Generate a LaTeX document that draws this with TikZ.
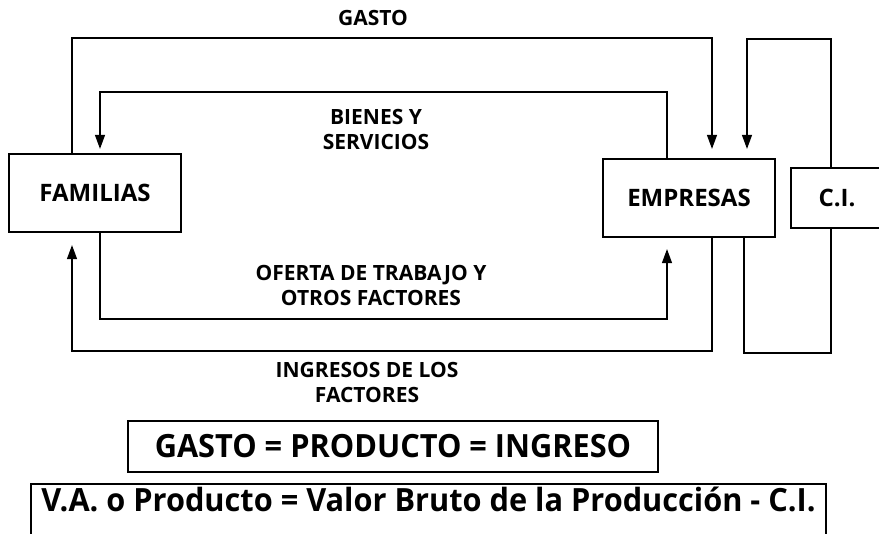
\documentclass[tikz,border=0pt]{standalone}
\usepackage{fontspec}
\setmainfont{Open Sans}
\newfontfamily\condfont{Open Sans}[FakeStretch=0.96]
\usetikzlibrary{arrows.meta,calc}
\tikzstyle{box}=[rectangle,draw=black,line width=2.2pt,inner sep=0pt,
  font=\bfseries\fontsize{24}{28}\selectfont,minimum width=172pt,minimum height=78pt]
\tikzstyle{lbl}=[align=center,inner sep=0pt,font=\bfseries\fontsize{21}{25}\selectfont]
\tikzstyle{flow}=[line width=1.2pt]
\tikzstyle{tip}=[-{Triangle[length=14pt,width=10pt]}]
\tikzstyle{eq}=[rectangle,draw=black,line width=2pt,
  font=\condfont\bfseries\fontsize{32}{36}\selectfont]

\begin{document}
\begin{tikzpicture}[x=1pt,y=-1pt]
            \useasboundingbox (0,0) rectangle (879,534);
            \node [style=box] (0) at (95, 193) {FAMILIAS};
            \node [style=box] (1) at (689, 198) {EMPRESAS};
            \node [style=box,minimum width=92pt,minimum height=60pt] (2) at (837, 198) {C.I.};
            \coordinate (a) at (72, 38);
            \coordinate (b) at (712, 38);
            \coordinate (c) at (667, 92);
            \coordinate (d) at (100, 92);
            \coordinate (e) at (831, 39);
            \coordinate (f) at (747, 39);
            \coordinate (g) at (831, 353);
            \coordinate (h) at (744, 353);
            \coordinate (i) at (712, 351);
            \coordinate (j) at (72, 351);
            \coordinate (k) at (100, 319);
            \coordinate (l) at (667, 319);
            \draw [style=flow,style=tip,shorten >=9pt] (0.north -| a) -- (a) -- (b) -- (1.north -| b);
            \draw [style=flow,style=tip,shorten >=4pt] (1.north -| c) -- (c) -- (d) -- (0.north -| d);
            \draw [style=flow,style=tip,shorten >=9pt] (2.north -| e) -- (e) -- (f) -- (1.north -| f);
            \draw [style=flow] (2.south -| g) -- (g) -- (h) -- (1.south -| h);
            \draw [style=flow,style=tip,shorten >=12pt] (1.south -| i) -- (i) -- (j) -- (0.south -| j);
            \draw [style=flow,style=tip,shorten >=11pt] (0.south -| k) -- (k) -- (l) -- (1.south -| l);
            \node [style=lbl] (3) at (373, 18) {GASTO};
            \node [style=lbl] (4) at (376, 130) {BIENES Y\\SERVICIOS};
            \node [style=lbl] (5) at (371, 285) {OFERTA DE TRABAJO Y\\OTROS FACTORES};
            \node [style=lbl] (6) at (367, 382) {INGRESOS DE LOS\\FACTORES};
            \node [style=eq,minimum width=530pt,minimum height=51pt] (7) at (393, 446.5) {GASTO = PRODUCTO = INGRESO};
            \node [style=eq,anchor=base,minimum width=795pt,inner ysep=6pt,text height=22pt,text depth=30pt] (8) at (428.5, 512) {V.A. o Producto = Valor Bruto de la Producción - C.I.};
    \end{tikzpicture}
\end{document}
